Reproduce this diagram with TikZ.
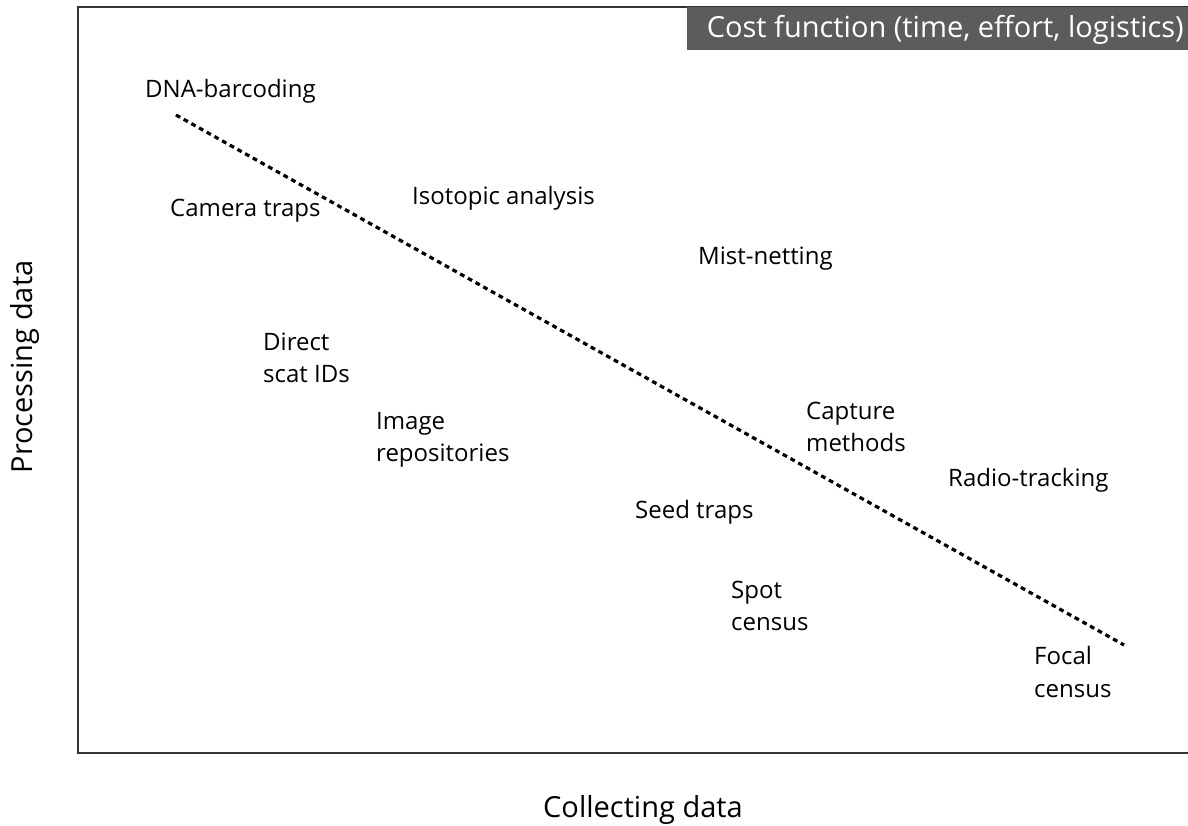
\documentclass[tikz,border=0pt]{standalone}
\usepackage{fontspec}
\setmainfont{Open Sans}
\begin{document}
\begin{tikzpicture}[x=1pt,y=-1pt,
  lbl/.style={anchor=west,align=left,inner sep=0pt,font=\fontsize{24}{32.5}\selectfont,text=black},
  axis/.style={font=\fontsize{29}{33}\selectfont,inner sep=0pt,text=black},
  frameline/.style={draw=black!80,line width=2pt},
  trend/.style={line width=3.2pt,dash pattern=on 4.8pt off 4pt,draw=black}]
\useasboundingbox (0,0) rectangle (1188,825);
\draw[frameline] (1190,7) -- (78,7) -- (78,753) -- (1190,753);
\fill[black!64] (687,7) rectangle (1190,50);
\node[inner sep=0pt,anchor=base east,text=white,font=\fontsize{29}{33}\selectfont] (title) at (1184,37) {Cost function (time, effort, logistics)};
\coordinate (t1) at (176,115);
\coordinate (t2) at (1124,645);
\draw[trend] (t1) -- (t2);
\node[lbl] (dna) at (145,91) {DNA-barcoding};
\node[lbl] (cam) at (170,211) {Camera traps};
\node[lbl] (iso) at (412,198) {Isotopic analysis};
\node[lbl] (mist) at (698,259) {Mist-netting};
\node[lbl] (scat) at (263,358) {Direct\\scat IDs};
\node[lbl] (img) at (376,440) {Image\\repositories};
\node[lbl] (cap) at (806,427) {Capture\\methods};
\node[lbl] (radio) at (948,480) {Radio-tracking};
\node[lbl] (seed) at (635,512) {Seed traps};
\node[lbl] (spot) at (731,606) {Spot\\census};
\node[lbl] (focal) at (1034,672) {Focal\\census};
\node[axis,rotate=90] (ylab) at (25,367) {Processing data};
\node[axis,anchor=base] (xlab) at (643,817) {Collecting data};
\end{tikzpicture}
\end{document}
